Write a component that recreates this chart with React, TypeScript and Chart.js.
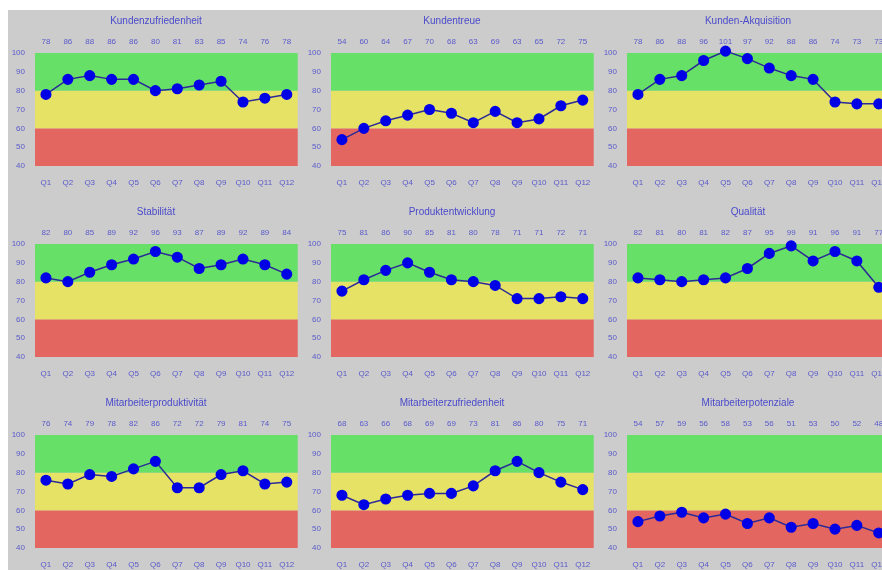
import React, { useEffect, useRef } from "react";
import { Chart, registerables } from "chart.js";

Chart.register(...registerables);

const categories = ["Q1", "Q2", "Q3", "Q4", "Q5", "Q6", "Q7", "Q8", "Q9", "Q10", "Q11", "Q12"];

const kundenzufriedenheit = [78, 86, 88, 86, 86, 80, 81, 83, 85, 74, 76, 78];
const kundentreue = [54, 60, 64, 67, 70, 68, 63, 69, 63, 65, 72, 75];
const kundenAkquisition = [78, 86, 88, 96, 101, 97, 92, 88, 86, 74, 73, 73];
const stabilitaet = [82, 80, 85, 89, 92, 96, 93, 87, 89, 92, 89, 84];
const produktentwicklung = [75, 81, 86, 90, 85, 81, 80, 78, 71, 71, 72, 71];
const qualitaet = [82, 81, 80, 81, 82, 87, 95, 99, 91, 96, 91, 77];
const mitarbeiterproduktivitaet = [76, 74, 79, 78, 82, 86, 72, 72, 79, 81, 74, 75];
const mitarbeiterzufriedenheit = [68, 63, 66, 68, 69, 69, 73, 81, 86, 80, 75, 71];
const mitarbeiterpotenziale = [54, 57, 59, 56, 58, 53, 56, 51, 53, 50, 52, 48];

const titles = [
  "Kundenzufriedenheit",
  "Kundentreue",
  "Kunden-Akquisition",
  "Stabilität",
  "Produktentwicklung",
  "Qualität",
  "Mitarbeiterproduktivität",
  "Mitarbeiterzufriedenheit",
  "Mitarbeiterpotenziale",
];
const seriesList = [
  kundenzufriedenheit,
  kundentreue,
  kundenAkquisition,
  stabilitaet,
  produktentwicklung,
  qualitaet,
  mitarbeiterproduktivitaet,
  mitarbeiterzufriedenheit,
  mitarbeiterpotenziale,
];

const yTicks = [40, 50, 60, 70, 80, 90, 100];
const bandLimits = [40, 60, 80, 100];
const bandColors = ["#e46660", "#e6e266", "#66e066"];

const W = 296;
const H = 191;
const FONT = "'Liberation Sans', Arial, sans-serif";
const TEXT = "#5a5acc";

const bandsPlugin = {
  id: "bands",
  beforeDatasetsDraw(chart: any) {
    const { ctx, chartArea, scales } = chart;
    const y = scales.y;
    ctx.save();
    for (let i = 0; i < bandColors.length; i++) {
      const top = y.getPixelForValue(bandLimits[i + 1]);
      const bottom = y.getPixelForValue(bandLimits[i]);
      ctx.fillStyle = bandColors[i];
      ctx.fillRect(chartArea.left, top, chartArea.right - chartArea.left, bottom - top);
    }
    ctx.restore();
  },
};

function Panel({ title, values }: { title: string; values: number[] }) {
  const ref = useRef<HTMLCanvasElement>(null);
  useEffect(() => {
    if (!ref.current) return;
    const chart = new Chart(ref.current, {
      type: "line",
      data: {
        labels: categories,
        datasets: [
          {
            data: values,
            borderColor: "#2b2b96",
            borderWidth: 1.5,
            backgroundColor: "#0000e6",
            pointBackgroundColor: "#0000e6",
            pointBorderColor: "#0000e6",
            pointRadius: 4.8,
            clip: false as any,
            tension: 0,
          },
        ],
      },
      options: {
        responsive: false,
        animation: false,
        layout: { padding: { left: 0, right: 0, top: 0, bottom: 0 } },
        plugins: {
          legend: { display: false },
          tooltip: { enabled: false },
          title: {
            display: true,
            text: title,
            color: "#4a4acc",
            font: { family: FONT, size: 10, weight: "normal" as any },
            padding: { top: 5, bottom: 4 },
          },
        },
        scales: {
          x: {
            type: "category",
            offset: true,
            grid: { display: false, drawTicks: false },
            border: { display: false },
            ticks: { color: TEXT, font: { family: FONT, size: 8 }, padding: 12, maxRotation: 0, autoSkip: false },
            afterFit: (s: any) => {
              s.height = 35;
              s.paddingLeft = 0;
              s.paddingRight = 0;
            },
          },
          x2: {
            type: "category",
            position: "top",
            labels: values.map(String),
            offset: true,
            grid: { display: false, drawTicks: false },
            border: { display: false },
            ticks: { color: TEXT, font: { family: FONT, size: 8 }, padding: 6, maxRotation: 0, autoSkip: false },
            afterFit: (s: any) => {
              s.height = 22;
              s.paddingLeft = 0;
              s.paddingRight = 0;
            },
          },
          y: {
            min: 40,
            max: 100,
            grid: { display: false, drawTicks: false },
            border: { display: false },
            afterBuildTicks: (s: any) => {
              s.ticks = yTicks.map((v) => ({ value: v }));
            },
            ticks: { color: TEXT, font: { family: FONT, size: 8 }, padding: 10 },
            afterFit: (s: any) => {
              s.width = 27;
            },
          },
        },
      },
      plugins: [bandsPlugin],
    });
    return () => chart.destroy();
  }, [title, values]);
  return (
    <div style={{ width: W, height: H, background: "#cccccc", flex: "0 0 auto" }}>
      <canvas ref={ref} width={W} height={H} style={{ display: "block", width: W, height: H }} />
    </div>
  );
}

export default function App() {
  return (
    <div
      style={{
        position: "fixed",
        left: 8,
        top: 10,
        right: 0,
        bottom: 0,
        overflow: "hidden",
        background: "#ffffff",
      }}
    >
      <div style={{ display: "flex", flexWrap: "wrap", width: W * 3 }}>
        {titles.map((t, i) => (
          <Panel key={t} title={t} values={seriesList[i]} />
        ))}
      </div>
    </div>
  );
}
